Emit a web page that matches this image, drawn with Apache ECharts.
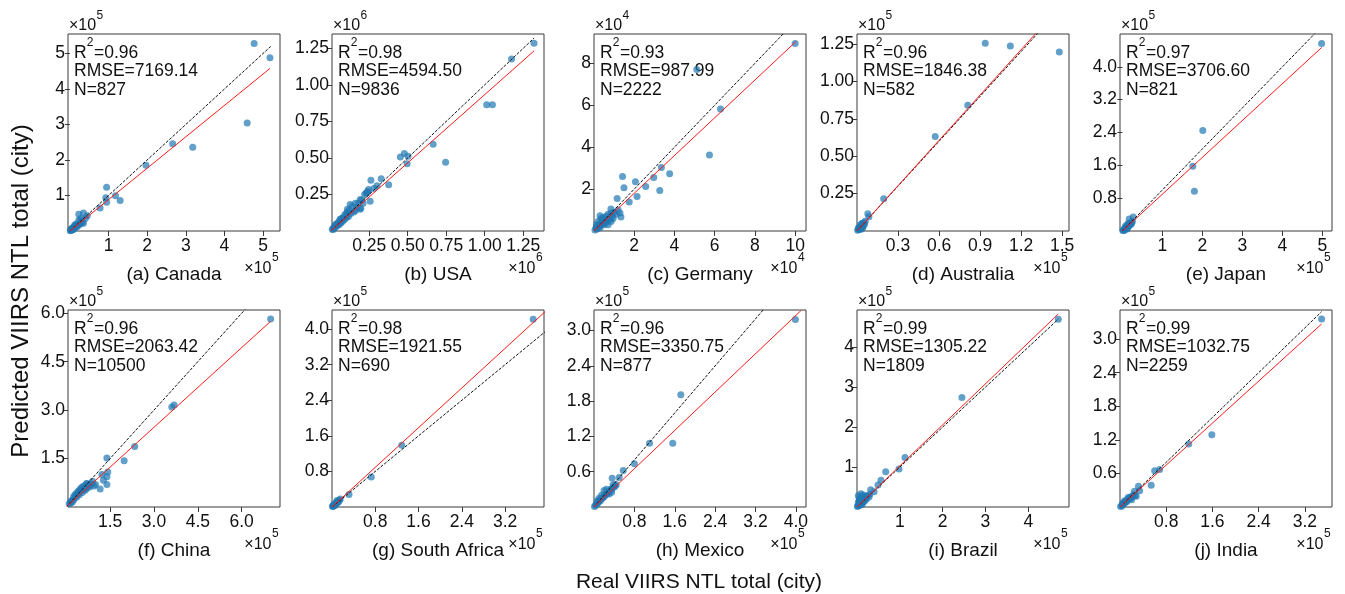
<!DOCTYPE html>
<html>
<head>
<meta charset="utf-8">
<script src="https://cdn.jsdelivr.net/npm/echarts@6/dist/echarts.min.js"></script>
<style>html,body{margin:0;padding:0;background:#fff;}#c{width:1345px;height:594px;}</style>
</head>
<body>
<div id="c"></div>
<script>
// ---------- DATA (values shown in units of 10^exponent) ----------
const panelLabels = ['(a) Canada','(b) USA','(c) Germany','(d) Australia','(e) Japan','(f) China','(g) South Africa','(h) Mexico','(i) Brazil','(j) India'];
const r2Values = ['0.96','0.98','0.93','0.96','0.97','0.96','0.98','0.96','0.99','0.99'];
const rmseValues = ['7169.14','4594.50','987.99','1846.38','3706.60','2063.42','1921.55','3350.75','1305.22','1032.75'];
const nValues = ['827','9836','2222','582','821','10500','690','877','1809','2259'];
const exponents = [5,6,4,5,5,5,5,5,5,5];

const canada = [[4.77,5.28],[5.18,4.88],[4.59,3.04],[3.18,2.36],[2.66,2.46],[1.97,1.85],[0.95,1.23],[1.18,0.99],[1.30,0.86],[0.95,0.81],[0.93,0.94],[0.78,0.65],[0.35,0.51],[0.23,0.47],[0.45,0.43],[0.35,0.22],
  [0.02,0.02],[0.03,0.04],[0.05,0.04],[0.06,0.07],[0.08,0.06],[0.10,0.10],[0.12,0.09],[0.14,0.15],[0.15,0.12],[0.17,0.14],[0.20,0.19],[0.22,0.16],[0.25,0.22],[0.27,0.20],[0.30,0.28],[0.32,0.25],[0.18,0.12],[0.12,0.16],[0.08,0.10],[0.04,0.06],[0.23,0.30],[0.28,0.35],[0.01,0.01],[0.06,0.03],[0.16,0.20],[0.40,0.35],[0.10,0.05]];
const usa = [[1.32,1.284],[1.174,1.177],[1.013,0.864],[1.05,0.864],[0.665,0.593],[0.746,0.47],[0.452,0.507],[0.478,0.53],[0.502,0.511],[0.496,0.461],[0.376,0.316],[0.328,0.357],[0.261,0.348],[0.245,0.284],[0.256,0.204],[0.235,0.262],[0.191,0.216],[0.126,0.182],[0.191,0.148],[0.108,0.148],
  [0.005,0.005],[0.01,0.012],[0.015,0.01],[0.02,0.025],[0.025,0.02],[0.03,0.035],[0.035,0.03],[0.04,0.05],[0.045,0.04],[0.05,0.06],[0.055,0.045],[0.06,0.07],[0.065,0.055],[0.07,0.085],[0.075,0.065],[0.08,0.09],[0.085,0.075],[0.09,0.11],[0.095,0.085],[0.10,0.12],[0.105,0.095],[0.11,0.13],[0.115,0.10],[0.12,0.14],[0.13,0.12],[0.14,0.17],[0.15,0.13],[0.16,0.19],[0.17,0.16],[0.18,0.19],[0.20,0.21],[0.21,0.19],[0.22,0.25],[0.23,0.26],[0.24,0.27],[0.195,0.155],[0.16,0.14],[0.06,0.08],[0.03,0.045],[0.28,0.29],[0.30,0.31]];
const germany = [[10.0,8.95],[6.29,5.82],[5.74,3.63],[5.11,7.71],[3.35,3.03],[3.76,2.73],[2.97,2.55],[3.27,1.93],[2.57,2.12],[2.06,2.35],[2.14,1.65],[1.42,2.60],[1.49,2.06],[1.75,1.38],[1.15,1.55],[0.84,1.05],[1.29,0.86],[1.34,0.67],[0.30,0.73],
  [0.05,0.05],[0.10,0.15],[0.15,0.10],[0.20,0.25],[0.25,0.20],[0.30,0.35],[0.35,0.30],[0.40,0.50],[0.45,0.35],[0.50,0.55],[0.55,0.45],[0.60,0.70],[0.65,0.50],[0.70,0.80],[0.75,0.60],[0.80,0.55],[0.85,0.85],[0.90,0.70],[0.95,0.60],[1.00,0.90],[0.20,0.45],[0.35,0.60],[0.50,0.30],[0.60,0.40],[0.30,0.15],[0.12,0.30],[0.70,0.30],[1.10,0.80],[0.45,0.65],[0.85,0.45],[1.20,1.00]];
const australia = [[0.9375,1.255],[1.121,1.237],[1.479,1.197],[0.81,0.841],[0.572,0.632],[0.195,0.215],[0.079,0.115],[0.087,0.095],
  [0.005,0.005],[0.01,0.012],[0.015,0.01],[0.02,0.025],[0.025,0.018],[0.03,0.035],[0.035,0.028],[0.04,0.05],[0.045,0.03],[0.05,0.055],[0.055,0.045],[0.06,0.065],[0.035,0.05],[0.025,0.04],[0.01,0.02],[0.04,0.02],[0.03,0.012]];
const japan = [[4.98,4.57],[2.01,2.45],[1.76,1.58],[1.80,0.97],[0.27,0.34],[0.17,0.29],[0.23,0.18],
  [0.01,0.01],[0.03,0.02],[0.05,0.06],[0.07,0.05],[0.09,0.10],[0.10,0.07],[0.12,0.12],[0.14,0.10],[0.15,0.15],[0.16,0.12],[0.18,0.17],[0.20,0.15],[0.22,0.21],[0.08,0.12],[0.12,0.05],[0.05,0.02],[0.25,0.23],[0.14,0.18]];
const china = [[6.99,5.82],[3.61,3.10],[3.69,3.16],[2.34,1.87],[1.98,1.43],[1.39,1.52],[1.42,1.08],[1.39,0.94],[1.39,0.70],[1.27,0.83],[1.22,1.01],[1.16,0.56],[0.95,0.65],[0.70,0.73],
  [0.05,0.05],[0.10,0.10],[0.15,0.12],[0.20,0.20],[0.25,0.22],[0.30,0.30],[0.35,0.30],[0.40,0.40],[0.45,0.38],[0.50,0.50],[0.55,0.45],[0.60,0.55],[0.65,0.60],[0.70,0.58],[0.75,0.65],[0.80,0.70],[0.85,0.72],[0.90,0.80],[0.30,0.38],[0.40,0.48],[0.50,0.58],[0.60,0.65],[0.25,0.32],[0.35,0.42],[0.45,0.52],[0.55,0.62],[0.70,0.72],[0.15,0.18],[0.20,0.15],[0.65,0.52],[0.80,0.62],[1.00,0.70]];
const southAfrica = [[3.72,4.22],[1.29,1.39],[0.726,0.673],[0.314,0.283],[0.153,0.18],[0.092,0.148],
  [0.01,0.01],[0.02,0.025],[0.03,0.03],[0.04,0.05],[0.05,0.06],[0.06,0.065],[0.07,0.08],[0.08,0.09],[0.10,0.12],[0.12,0.13],[0.14,0.15],[0.03,0.02],[0.06,0.04],[0.09,0.10],[0.11,0.10],[0.015,0.03]];
const mexico = [[3.99,3.19],[1.72,1.91],[1.56,1.085],[1.10,1.085],[0.80,0.735],[0.58,0.62],[0.36,0.49],[0.50,0.50],
  [0.01,0.01],[0.03,0.03],[0.05,0.05],[0.07,0.06],[0.09,0.09],[0.10,0.11],[0.12,0.10],[0.14,0.13],[0.16,0.15],[0.18,0.16],[0.20,0.18],[0.22,0.20],[0.24,0.22],[0.26,0.23],[0.28,0.25],[0.30,0.26],[0.32,0.28],[0.34,0.30],[0.36,0.32],[0.40,0.34],[0.42,0.36],[0.20,0.28],[0.25,0.30],[0.30,0.22],[0.15,0.20],[0.35,0.25],[0.38,0.38],[0.44,0.38],[0.10,0.15],[0.06,0.10]];
const brazil = [[4.70,4.70],[2.45,2.74],[1.12,1.24],[0.98,0.95],[0.67,0.88],[0.56,0.67],[0.49,0.55],[0.32,0.43],[0.40,0.38],[0.09,0.33],[0.21,0.27],
  [0.01,0.01],[0.02,0.03],[0.04,0.03],[0.05,0.06],[0.07,0.05],[0.08,0.10],[0.10,0.08],[0.12,0.14],[0.14,0.12],[0.16,0.18],[0.18,0.15],[0.20,0.22],[0.22,0.20],[0.25,0.28],[0.28,0.25],[0.03,0.12],[0.06,0.20],[0.10,0.25],[0.15,0.30],[0.03,0.28],[0.12,0.06],[0.05,0.15],[0.30,0.32],[0.18,0.22]];
const india = [[3.49,3.36],[1.59,1.29],[1.19,1.125],[0.686,0.67],[0.60,0.647],[0.54,0.39],[0.32,0.37],[0.34,0.29],[0.25,0.28],[0.28,0.19],
  [0.01,0.01],[0.03,0.02],[0.04,0.04],[0.06,0.05],[0.07,0.07],[0.09,0.08],[0.10,0.10],[0.12,0.10],[0.13,0.13],[0.15,0.14],[0.17,0.15],[0.18,0.18],[0.20,0.17],[0.22,0.20],[0.24,0.22],[0.05,0.07],[0.08,0.11],[0.14,0.17],[0.20,0.13],[0.26,0.20]];
const pointSets = [canada, usa, germany, australia, japan, china, southAfrica, mexico, brazil, india];

const xTickValues = [[1,2,3,4,5],[0.25,0.5,0.75,1.0,1.25],[2,4,6,8,10],[0.3,0.6,0.9,1.2,1.5],[1,2,3,4,5],
  [1.5,3.0,4.5,6.0],[0.8,1.6,2.4,3.2],[0.8,1.6,2.4,3.2,4.0],[1,2,3,4],[0.8,1.6,2.4,3.2]];
const yTickValues = [[1,2,3,4,5],[0.25,0.5,0.75,1.0,1.25],[2,4,6,8],[0.25,0.5,0.75,1.0,1.25],[0.8,1.6,2.4,3.2,4.0],
  [1.5,3.0,4.5,6.0],[0.8,1.6,2.4,3.2,4.0],[0.6,1.2,1.8,2.4,3.0],[1,2,3,4],[0.6,1.2,1.8,2.4,3.0]];
const xTickDecimals = [0,2,0,1,0,1,1,1,0,1];
const yTickDecimals = [0,2,0,2,1,1,1,1,0,1];
const xLimits = [[-0.05,5.44],[0.008,1.385],[0,10.54],[0,1.55],[-0.06,5.24],[0.06,7.31],[0,3.92],[0,4.2],[0,4.95],[0,3.67]];
const yLimits = [[0,5.55],[0,1.348],[0,9.4],[0,1.317],[0,4.8],[0,6.1],[0,4.43],[0,3.35],[0,4.93],[0,3.52]];
const identityEnds = [5.2,1.32,10.0,1.47,4.98,6.99,4.0,3.99,4.7,3.49];
const fitLines = [[[0,0],[5.18,4.58]],[[0,0],[1.32,1.232]],[[0,0],[10.05,9.05]],[[0,0],[1.47,1.485]],[[0,0],[4.98,4.47]],
  [[0,0],[6.99,5.75]],[[0,0],[4.0,4.46]],[[0,0],[4.1,3.34]],[[0,0],[4.7,4.83]],[[0,0],[3.49,3.27]]];

// ---------- LAYOUT ----------
const FONT = "'Liberation Sans', Arial, Helvetica, sans-serif";
const gridLefts = [68,332,594,857,1120];
const gridTops = [34,310];
const GW = 212, GH = 197;
const TXT = '#111';
const FRAME = '#3a3a3a';

const grids = [], xAxes = [], yAxes = [], series = [], graphics = [];
for (let i = 0; i < 10; i++) {
  const L = gridLefts[i % 5], T = gridTops[Math.floor(i / 5)];
  const R = L + GW, B = T + GH;
  grids.push({left: L, top: T, width: GW, height: GH, show: true, borderColor: FRAME, borderWidth: 1, backgroundColor: 'transparent'});
  const xd = xTickDecimals[i], yd = yTickDecimals[i];
  xAxes.push({gridIndex: i, type: 'value', min: xLimits[i][0], max: xLimits[i][1],
    axisLine: {show: false}, splitLine: {show: false},
    axisTick: {show: true, inside: false, length: 5, customValues: xTickValues[i], lineStyle: {color: FRAME, width: 1}},
    axisLabel: {customValues: xTickValues[i], formatter: v => v.toFixed(xd), fontSize: 17.5, color: TXT, fontFamily: FONT, margin: 6}});
  yAxes.push({gridIndex: i, type: 'value', min: yLimits[i][0], max: yLimits[i][1],
    axisLine: {show: false}, splitLine: {show: false},
    axisTick: {show: true, inside: false, length: 5, customValues: yTickValues[i], lineStyle: {color: FRAME, width: 1}},
    axisLabel: {customValues: yTickValues[i], formatter: v => v.toFixed(yd), fontSize: 17.5, color: TXT, fontFamily: FONT, margin: 3}});
  series.push({type: 'scatter', xAxisIndex: i, yAxisIndex: i, data: pointSets[i], symbol: 'circle', symbolSize: 7,
    itemStyle: {color: '#1f77b4', opacity: 0.7}, silent: true});
  series.push({type: 'line', xAxisIndex: i, yAxisIndex: i, data: [[0,0],[identityEnds[i], identityEnds[i]]], symbol: 'none', clip: true,
    lineStyle: {color: '#111', width: 1, type: [3, 1.5]}, silent: true});
  series.push({type: 'line', xAxisIndex: i, yAxisIndex: i, data: fitLines[i], symbol: 'none', clip: true,
    lineStyle: {color: '#ff1a1a', width: 1}, silent: true});

  const base = {fontFamily: FONT, fill: TXT};
  // annotations
  const ax = L + 6;
  graphics.push({type: 'text', x: ax, y: T + 19, style: Object.assign({text: 'R', fontSize: 17.5, verticalAlign: 'middle', align: 'left'}, base)});
  graphics.push({type: 'text', x: ax + 12.8, y: T + 9, style: Object.assign({text: '2', fontSize: 12, verticalAlign: 'middle', align: 'left'}, base)});
  graphics.push({type: 'text', x: ax + 20, y: T + 19, style: Object.assign({text: '=' + r2Values[i], fontSize: 17.5, verticalAlign: 'middle', align: 'left'}, base)});
  graphics.push({type: 'text', x: ax, y: T + 37.5, style: Object.assign({text: 'RMSE=' + rmseValues[i], fontSize: 17.5, verticalAlign: 'middle', align: 'left'}, base)});
  graphics.push({type: 'text', x: ax, y: T + 56, style: Object.assign({text: 'N=' + nValues[i], fontSize: 17.5, verticalAlign: 'middle', align: 'left'}, base)});
  // panel label
  graphics.push({type: 'text', x: L + GW / 2, y: B + 44, style: Object.assign({text: panelLabels[i], fontSize: 19, verticalAlign: 'middle', align: 'center'}, base)});
  // y exponent
  graphics.push({type: 'text', x: L + 1, y: T - 8, style: Object.assign({text: '×10', fontSize: 16, verticalAlign: 'middle', align: 'left'}, base)});
  graphics.push({type: 'text', x: L + 28.5, y: T - 18, style: Object.assign({text: String(exponents[i]), fontSize: 12, verticalAlign: 'middle', align: 'left'}, base)});
  // x exponent
  graphics.push({type: 'text', x: R - 8.5, y: B + 38, style: Object.assign({text: '×10', fontSize: 16, verticalAlign: 'middle', align: 'right'}, base)});
  graphics.push({type: 'text', x: R - 8, y: B + 27, style: Object.assign({text: String(exponents[i]), fontSize: 12, verticalAlign: 'middle', align: 'left'}, base)});
}
graphics.push({type: 'text', x: 699, y: 582, style: {text: 'Real VIIRS NTL total (city)', fontSize: 21, fontFamily: FONT, fill: TXT, align: 'center', verticalAlign: 'middle'}});
graphics.push({type: 'text', x: 21, y: 291, rotation: Math.PI / 2, style: {text: 'Predicted VIIRS NTL total (city)', fontSize: 24, fontFamily: FONT, fill: TXT, align: 'center', verticalAlign: 'middle'}});

const chart = echarts.init(document.getElementById('c'), null, {renderer: 'canvas'});
chart.setOption({animation: false, backgroundColor: '#fff', grid: grids, xAxis: xAxes, yAxis: yAxes, series: series, graphic: graphics});
</script>
</body>
</html>
